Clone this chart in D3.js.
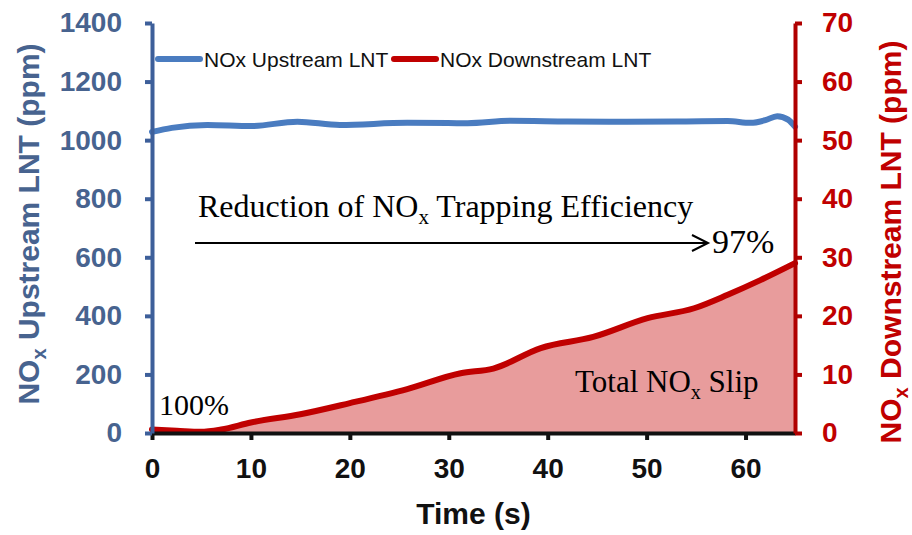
<!DOCTYPE html>
<html>
<head>
<meta charset="utf-8">
<script src="https://cdn.jsdelivr.net/npm/d3@7"></script>
<style>
  html, body { margin: 0; padding: 0; background: #fff; }
  svg { display: block; }
</style>
</head>
<body>
<svg id="chart" width="912" height="535"></svg>
<script>
// Time axis (s)
const timeTicks = [0, 10, 20, 30, 40, 50, 60];
const upTicks = [0, 200, 400, 600, 800, 1000, 1200, 1400];
const downTicks = [0, 10, 20, 30, 40, 50, 60, 70];

// NOx upstream of the LNT (ppm, left axis)
const upTime = [0, 2, 5.6, 10, 14.7, 19, 25.8, 31.9, 36.2, 42, 48, 54, 58.2, 60.5, 62, 63.2, 64.3, 65];
const upNOx  = [1028, 1042, 1052, 1048, 1063, 1052, 1059, 1058, 1066, 1064, 1063, 1064, 1065, 1059, 1068, 1082, 1070, 1046];

// NOx downstream of the LNT (ppm, right axis)
const downTime = [0, 2.5, 4.9, 7, 10, 15, 20, 25.8, 31.2, 34.5, 39.3, 44.6, 50.1, 54.8, 58.2, 61.5, 65];
const downNOx  = [0.6, 0.4, 0.2, 0.6, 1.8, 3.2, 5.1, 7.5, 10.2, 11.0, 14.5, 16.4, 19.6, 21.3, 23.6, 26.1, 29.0];

const svg = d3.select("#chart");
const plotLeft = 152, plotRight = 795, plotTop = 23, plotBottom = 433;

const x = d3.scaleLinear().domain([0, 65]).range([plotLeft, plotRight]);
const yUp = d3.scaleLinear().domain([0, 1400]).range([plotBottom, plotTop]);
const yDown = d3.scaleLinear().domain([0, 70]).range([plotBottom, plotTop]);

const blueAxis = "#3d5f9a", blueText = "#47638f", redAxis = "#b00000", redText = "#c00000";
const upData = upTime.map((t, i) => [t, upNOx[i]]);
const downData = downTime.map((t, i) => [t, downNOx[i]]);

// Shaded slip area under the downstream curve
svg.append("path")
  .datum(downData)
  .attr("fill", "#e89c9c")
  .attr("d", d3.area().curve(d3.curveMonotoneX)
    .x(d => x(d[0])).y0(yDown(0)).y1(d => yDown(d[1])));

// Downstream curve
svg.append("path")
  .datum(downData)
  .attr("fill", "none").attr("stroke", "#c00000").attr("stroke-width", 6)
  .attr("stroke-linejoin", "round").attr("stroke-linecap", "round")
  .attr("d", d3.line().curve(d3.curveMonotoneX)
    .x(d => x(d[0])).y(d => yDown(d[1])));

// Upstream curve
svg.append("path")
  .datum(upData)
  .attr("fill", "none").attr("stroke", "#4a7cc0").attr("stroke-width", 6)
  .attr("stroke-linejoin", "round").attr("stroke-linecap", "round")
  .attr("d", d3.line().curve(d3.curveMonotoneX)
    .x(d => x(d[0])).y(d => yUp(d[1])));

// Axes
function styleAxis(g, color, textColor, size) {
  g.select(".domain").attr("stroke", color).attr("stroke-width", 4);
  g.selectAll(".tick line").attr("stroke", color).attr("stroke-width", 4);
  g.selectAll(".tick text")
    .attr("fill", textColor)
    .style("font-family", "'Liberation Sans', Arial, sans-serif")
    .style("font-weight", "bold")
    .style("font-size", size + "px");
}
const fmt = d3.format("d");

const gx = svg.append("g").attr("transform", `translate(0,${plotBottom})`)
  .call(d3.axisBottom(x).tickValues(timeTicks).tickFormat(fmt).tickSize(7).tickPadding(18).tickSizeOuter(0));
styleAxis(gx, "#111", "#111", 28);

const gl = svg.append("g").attr("transform", `translate(${plotLeft},0)`)
  .call(d3.axisLeft(yUp).tickValues(upTicks).tickFormat(fmt).tickSize(7).tickPadding(23).tickSizeOuter(0));
styleAxis(gl, blueAxis, blueText, 28);

const gr = svg.append("g").attr("transform", `translate(${plotRight},0)`)
  .call(d3.axisRight(yDown).tickValues(downTicks).tickFormat(fmt).tickSize(7).tickPadding(20).tickSizeOuter(0));
styleAxis(gr, redAxis, redText, 28);

// Axis titles
const sans = "'Liberation Sans', Arial, sans-serif";
const serif = "'Liberation Serif', 'Times New Roman', serif";

svg.append("text")
  .attr("x", x(32.5)).attr("y", 524)
  .attr("text-anchor", "middle")
  .style("font-family", sans).style("font-weight", "bold").style("font-size", "30px")
  .attr("fill", "#111").text("Time (s)");

function yTitle(cx, cy, color, word) {
  const t = svg.append("text")
    .attr("transform", `translate(${cx},${cy}) rotate(-90)`)
    .attr("text-anchor", "middle")
    .style("font-family", sans).style("font-weight", "bold").style("font-size", "30px")
    .attr("fill", color);
  t.append("tspan").text("NO");
  t.append("tspan").attr("font-size", "20px").attr("dy", 7).text("x");
  t.append("tspan").attr("dy", -7).text(` ${word} LNT (ppm)`);
}
yTitle(39, 224, blueText, "Upstream");
yTitle(901, 242, redText, "Downstream");

// Legend
const legend = [
  { label: "NOx Upstream LNT", color: "#4a7cc0", x0: 158 },
  { label: "NOx Downstream LNT", color: "#c00000", x0: 394 }
];
legend.forEach(d => {
  svg.append("line")
    .attr("x1", d.x0).attr("x2", d.x0 + 42).attr("y1", 59).attr("y2", 59)
    .attr("stroke", d.color).attr("stroke-width", 6).attr("stroke-linecap", "round");
  svg.append("text")
    .attr("x", d.x0 + 46).attr("y", 67)
    .style("font-family", sans).style("font-size", "21px")
    .attr("fill", "#111").text(d.label);
});

// Annotations
function subText(xp, yp, before, after, size) {
  const t = svg.append("text").attr("x", xp).attr("y", yp)
    .style("font-family", serif).style("font-size", size + "px").attr("fill", "#000");
  t.append("tspan").text(before);
  t.append("tspan").attr("font-size", Math.round(size * 0.65) + "px").attr("dy", 7).text("x");
  t.append("tspan").attr("dy", -7).text(after);
}
subText(198, 217, "Reduction of NO", " Trapping Efficiency", 32);
subText(575, 392, "Total NO", " Slip", 31);

svg.append("text").attr("x", 159).attr("y", 415)
  .style("font-family", serif).style("font-size", "30px").attr("fill", "#000").text("100%");
svg.append("text").attr("x", 712).attr("y", 253)
  .style("font-family", serif).style("font-size", "34px").attr("fill", "#000").text("97%");

// Arrow
svg.append("line")
  .attr("x1", 195).attr("x2", 708).attr("y1", 243).attr("y2", 243)
  .attr("stroke", "#000").attr("stroke-width", 2);
svg.append("path")
  .attr("d", "M692,235 L708,243 L692,251")
  .attr("fill", "none").attr("stroke", "#000").attr("stroke-width", 2);
</script>
</body>
</html>
